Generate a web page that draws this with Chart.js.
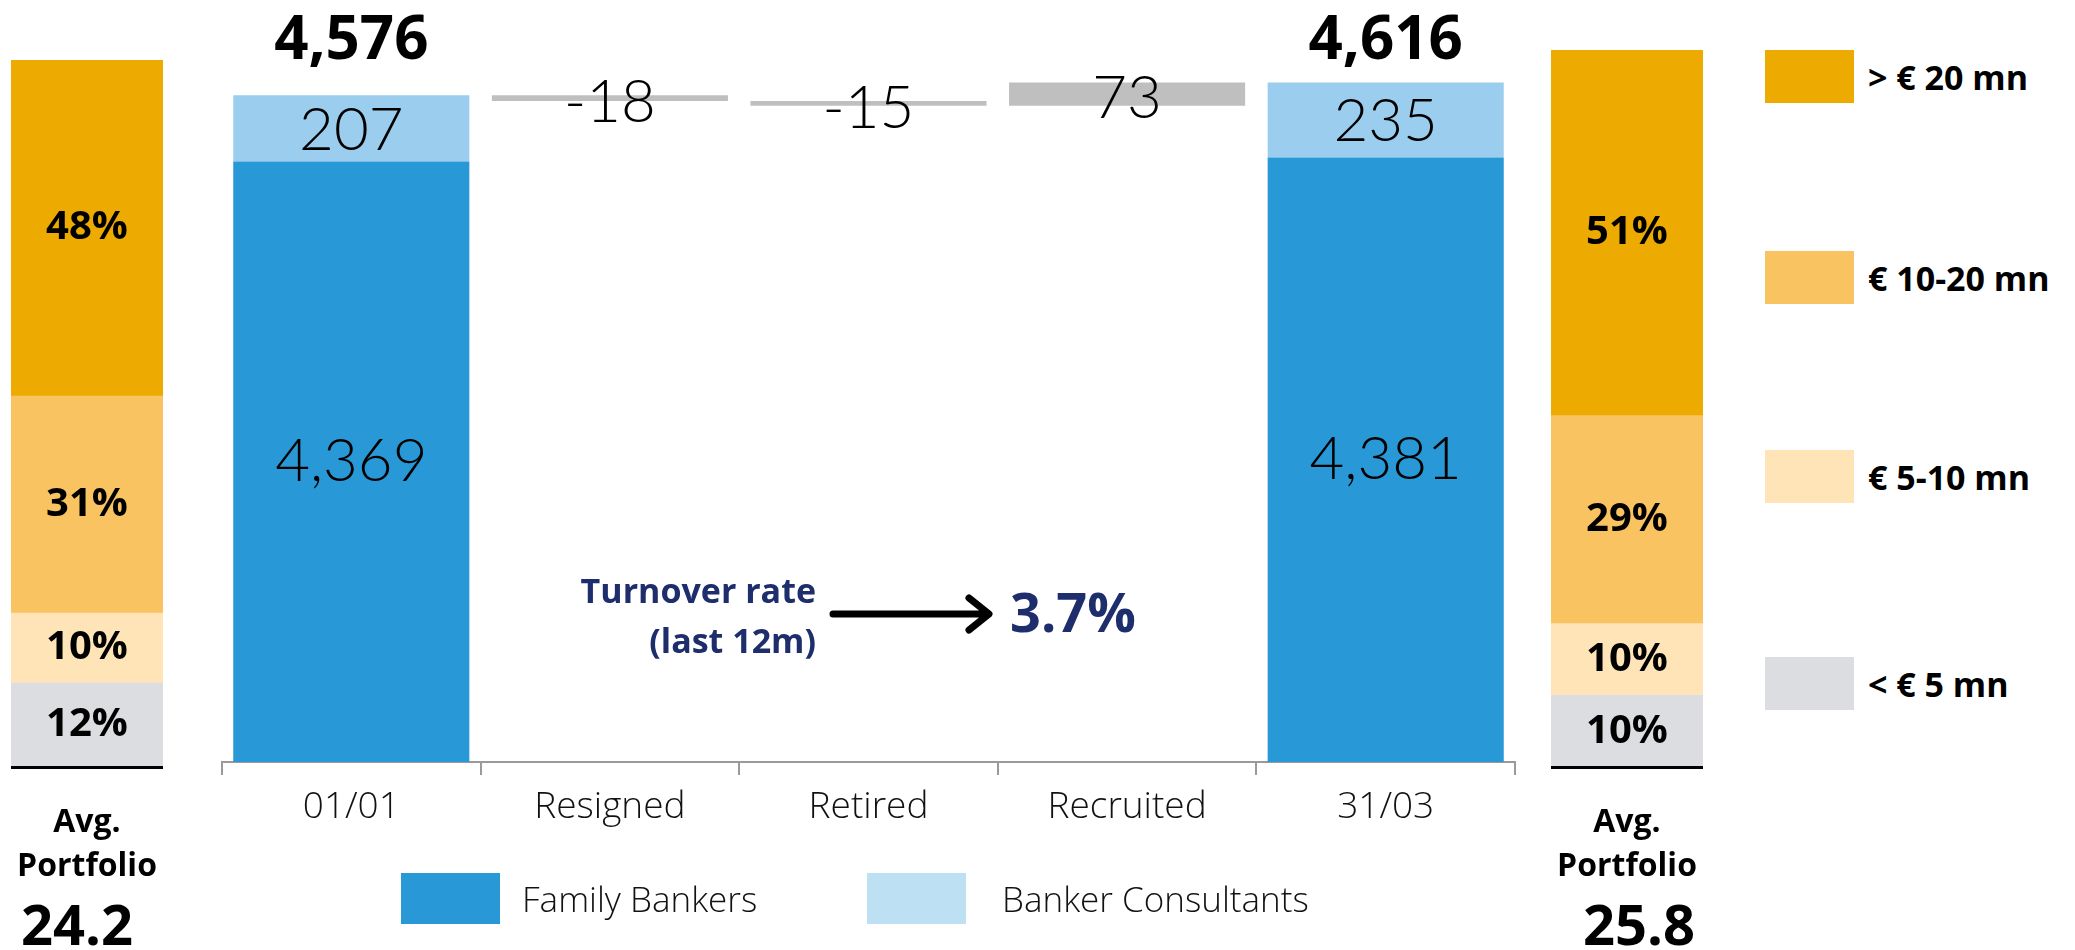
<!DOCTYPE html>
<html>
<head>
<meta charset="utf-8">
<script src="https://cdn.jsdelivr.net/npm/chart.js@4.4.1/dist/chart.umd.min.js"></script>
<style>
  html, body { margin: 0; padding: 0; background: #fff; }
  body { width: 2075px; height: 950px; position: relative; overflow: hidden; }
  canvas { position: absolute; top: 0; }
  #mixStart { left: 0; }
  #flow { left: 200px; }
  #mixEnd { left: 1540px; }
  .legend-item { position: absolute; display: flex; align-items: center; white-space: nowrap; }
  .legend-item span.sw { display: inline-block; }
  .main-legend { font: 300 35px "Open Sans", sans-serif; color: #111; }
  .size-legend { font: 700 34px "Open Sans", sans-serif; color: #000; }
</style>
</head>
<body>
<canvas id="mixStart" width="180" height="950"></canvas>
<canvas id="flow" width="1340" height="950"></canvas>
<canvas id="mixEnd" width="180" height="950"></canvas>
<div id="legends"></div>
<script>
// -----------------------------
// Data
// -----------------------------
const categories = ["01/01", "Resigned", "Retired", "Recruited", "31/03"];
const familyBankers = [4369, null, null, null, 4381];
const bankerConsultants = [207, null, null, null, 235];
const movements = [null, -18, -15, 73, null];

const sizeBuckets = ["> € 20 mn", "€ 10-20 mn", "€ 5-10 mn", "< € 5 mn"];
const mixStart = [48, 31, 10, 12];
const mixEnd = [51, 29, 10, 10];
const avgPortfolio = [24.2, 25.8];
const turnoverRate = 3.7;

// -----------------------------
// Styles
// -----------------------------
const BLUE = "#2998d6";
const LIGHT_BLUE = "#9bceee";
const LIGHT_BLUE_KEY = "#bde0f3";
const GREY = "#bfbfbf";
const NAVY = "#1e2d6c";
const bucketColors = ["#edaa00", "#f8c360", "#ffe4b8", "#dcdde1"];
const REGULAR = "Lato";
const TEXT = "Open Sans";
const BOLD = "Open Sans";

const fmt = v => v.toLocaleString("en-US");

// derived bars for the waterfall
const totals = familyBankers.map((v, i) => v == null ? null : v + bankerConsultants[i]);
const consultantBars = familyBankers.map((v, i) => v == null ? null : [v, totals[i]]);
let running = totals[0];
const movementBars = movements.map(m => {
  if (m == null) return null;
  const from = running;
  running += m;
  return [Math.min(from, running), Math.max(from, running)];
});

// -----------------------------
// Waterfall chart
// -----------------------------
const flowLabels = {
  id: "flowLabels",
  afterDatasetsDraw(chart) {
    const { ctx, chartArea } = chart;
    const dark = chart.getDatasetMeta(0).data;
    const light = chart.getDatasetMeta(1).data;
    const moves = chart.getDatasetMeta(2).data;
    ctx.save();
    ctx.textAlign = "center";
    ctx.textBaseline = "middle";
    ctx.fillStyle = "#000";
    categories.forEach((c, i) => {
      if (familyBankers[i] != null) {
        const d = dark[i], l = light[i];
        ctx.font = `300 60px ${REGULAR}`;
        ctx.fillText(fmt(familyBankers[i]), d.x, (d.y + Math.min(d.base, chartArea.bottom)) / 2);
        ctx.fillText(fmt(bankerConsultants[i]), l.x, (l.y + l.base) / 2 + 2);
        ctx.font = `700 60px ${BOLD}`;
        ctx.fillText(fmt(totals[i]), l.x, chartArea.top + 42);
      }
      if (movements[i] != null) {
        const m = moves[i];
        ctx.font = `300 60px ${REGULAR}`;
        ctx.fillText(String(movements[i]), m.x, (m.y + m.base) / 2 + 5);
      }
    });

    // turnover note
    ctx.fillStyle = NAVY;
    ctx.textAlign = "right";
    ctx.font = `700 34px ${BOLD}`;
    ctx.fillText("Turnover rate", 616, 593);
    ctx.fillText("(last 12m)", 616, 643);
    ctx.strokeStyle = "#000";
    ctx.lineWidth = 7;
    ctx.lineCap = "round";
    ctx.lineJoin = "round";
    ctx.beginPath();
    ctx.moveTo(633, 614);
    ctx.lineTo(788, 614);
    ctx.moveTo(769, 598);
    ctx.lineTo(789, 614);
    ctx.lineTo(769, 630);
    ctx.stroke();
    ctx.textAlign = "left";
    ctx.font = `700 54px ${BOLD}`;
    ctx.fillText(turnoverRate.toFixed(1) + "%", 810, 617);
    ctx.restore();
  }
};

const barShape = { grouped: false, barPercentage: 0.913, categoryPercentage: 1 };

new Chart(document.getElementById("flow"), {
  type: "bar",
  data: {
    labels: categories,
    datasets: [
      { label: "Family Bankers", data: familyBankers, backgroundColor: BLUE, ...barShape },
      { label: "Banker Consultants", data: consultantBars, backgroundColor: LIGHT_BLUE, ...barShape },
      { label: "Movements", data: movementBars, backgroundColor: GREY, ...barShape }
    ]
  },
  options: {
    responsive: false,
    animation: false,
    layout: { padding: { left: 22, right: 25, top: 0, bottom: 0 } },
    plugins: { legend: { display: false }, tooltip: { enabled: false } },
    scales: {
      x: {
        grid: { offset: true, drawOnChartArea: false, tickLength: 13, color: "#9a9a9a", lineWidth: 2 },
        border: { color: "#9a9a9a", width: 2 },
        ticks: { color: "#111", padding: 10, font: { family: TEXT, size: 37, weight: "300" } },
        afterFit: scale => { scale.height = 188; }
      },
      y: { display: false, min: 2490, max: 4874 }
    }
  },
  plugins: [flowLabels]
});

// -----------------------------
// Portfolio mix bars
// -----------------------------
function mixChart(id, values, top, avg, avgShift) {
  const mixLabels = {
    id: "mixLabels",
    afterDatasetsDraw(chart) {
      const { ctx, chartArea } = chart;
      ctx.save();
      ctx.fillStyle = "#000";
      ctx.textAlign = "center";
      ctx.textBaseline = "middle";
      ctx.font = `700 40px ${BOLD}`;
      chart.data.datasets.forEach((ds, k) => {
        const el = chart.getDatasetMeta(k).data[0];
        ctx.fillText(ds.data[0] + "%", el.x, (el.y + el.base) / 2);
      });
      ctx.fillRect(chartArea.left, chartArea.bottom - 1, chartArea.right - chartArea.left, 3);
      const cx = (chartArea.left + chartArea.right) / 2;
      ctx.textBaseline = "alphabetic";
      ctx.font = `700 32px ${BOLD}`;
      ctx.fillText("Avg.", cx, 832);
      ctx.fillText("Portfolio", cx, 876);
      ctx.font = `700 56px ${BOLD}`;
      ctx.fillText(avg.toFixed(1), cx + avgShift, 945);
      ctx.restore();
    }
  };
  const order = values.map((v, k) => k).reverse();
  return new Chart(document.getElementById(id), {
    type: "bar",
    data: {
      labels: [""],
      datasets: order.map(k => ({
        label: sizeBuckets[k],
        data: [values[k]],
        backgroundColor: bucketColors[k],
        barPercentage: 1,
        categoryPercentage: 1
      }))
    },
    options: {
      responsive: false,
      animation: false,
      layout: { padding: { left: 11, right: 180 - 163, top: top, bottom: 950 - 767 } },
      plugins: { legend: { display: false }, tooltip: { enabled: false } },
      scales: {
        x: { display: false, stacked: true },
        y: { display: false, stacked: true, min: 0, max: values.reduce((a, b) => a + b, 0) }
      }
    },
    plugins: [mixLabels]
  });
}

mixChart("mixStart", mixStart, 60, avgPortfolio[0], -10);
mixChart("mixEnd", mixEnd, 50, avgPortfolio[1], 12);

// -----------------------------
// Legends
// -----------------------------
const legends = document.getElementById("legends");
function addKey(cls, x, y, w, h, color, text, gap) {
  const item = document.createElement("div");
  item.className = "legend-item " + cls;
  item.style.left = x + "px";
  item.style.top = y + "px";
  item.style.height = h + "px";
  item.innerHTML = `<span class="sw" style="width:${w}px;height:${h}px;background:${color}"></span><span style="margin-left:${gap}px">${text}</span>`;
  legends.appendChild(item);
}
addKey("main-legend", 401, 873, 99, 51, BLUE, "Family Bankers", 22);
addKey("main-legend", 867, 873, 99, 51, LIGHT_BLUE_KEY, "Banker Consultants", 36);
const keyTops = [50, 251, 450, 657];
sizeBuckets.forEach((name, k) => {
  addKey("size-legend", 1765, keyTops[k], 89, 53, bucketColors[k], name, 14);
});
</script>
</body>
</html>
